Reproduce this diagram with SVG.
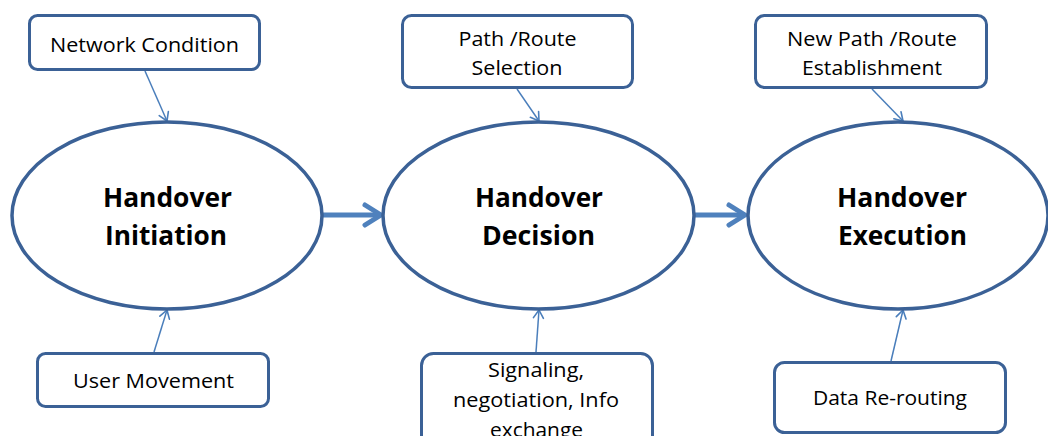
<svg xmlns="http://www.w3.org/2000/svg" width="1048" height="436" viewBox="0 0 1048 436">
  <style>
    .stage { fill: #ffffff; stroke: #3b6196; stroke-width: 3.5; }
    .box { fill: #ffffff; stroke: #3b6196; stroke-width: 3; }
    .title { font-family: "Open Sans", "Liberation Sans", sans-serif; font-weight: bold; font-size: 26px; fill: #000000; text-anchor: middle; }
    .label { font-family: "Open Sans", "Liberation Sans", sans-serif; font-size: 20px; fill: #000000; text-anchor: middle; }
    .thin { stroke: #4a7ebb; stroke-width: 1.5; fill: none; }
    .thick { stroke: #4f81bd; stroke-width: 5; fill: none; }
  </style>
  <defs>
    <marker id="open-small" viewBox="0 0 10 12" refX="9" refY="6" markerWidth="10" markerHeight="12" markerUnits="userSpaceOnUse" orient="auto" overflow="visible">
      <path d="M1,1 L9,6 L1,11" fill="none" stroke="#4a7ebb" stroke-width="1.6" stroke-linecap="round" stroke-linejoin="round"/>
    </marker>
    <marker id="open-large" viewBox="0 0 20 24" refX="17" refY="12" markerWidth="20" markerHeight="24" markerUnits="userSpaceOnUse" orient="auto" overflow="visible">
      <path d="M1,2 L17,12 L1,22" fill="none" stroke="#4f81bd" stroke-width="5" stroke-linecap="round" stroke-linejoin="round"/>
    </marker>
  </defs>

  <rect width="1048" height="436" fill="#ffffff"/>

  <!-- connectors -->
  <g id="connectors">
    <line class="thick" x1="322" y1="215" x2="381" y2="215" marker-end="url(#open-large)"/>
    <line class="thick" x1="695" y1="215" x2="745" y2="215" marker-end="url(#open-large)"/>
    <line class="thin" x1="145" y1="71" x2="167" y2="121" marker-end="url(#open-small)"/>
    <line class="thin" x1="517" y1="89" x2="539" y2="121" marker-end="url(#open-small)"/>
    <line class="thin" x1="872" y1="89" x2="903" y2="121" marker-end="url(#open-small)"/>
    <line class="thin" x1="154" y1="352" x2="167" y2="310" marker-end="url(#open-small)"/>
    <line class="thin" x1="536" y1="352" x2="539" y2="310" marker-end="url(#open-small)"/>
    <line class="thin" x1="891" y1="361" x2="903" y2="310" marker-end="url(#open-small)"/>
  </g>

  <!-- main stages -->
  <g id="initiation">
    <ellipse class="stage" cx="167" cy="215.5" rx="155" ry="93.5"/>
    <text class="title" x="167.5" y="207" textLength="129" lengthAdjust="spacingAndGlyphs">Handover</text>
    <text class="title" x="166" y="245" textLength="122" lengthAdjust="spacingAndGlyphs">Initiation</text>
  </g>
  <g id="decision">
    <ellipse class="stage" cx="538.5" cy="215.5" rx="155.5" ry="93.5"/>
    <text class="title" x="539" y="207" textLength="128" lengthAdjust="spacingAndGlyphs">Handover</text>
    <text class="title" x="538.5" y="245" textLength="113" lengthAdjust="spacingAndGlyphs">Decision</text>
  </g>
  <g id="execution">
    <ellipse class="stage" cx="898" cy="215.5" rx="150" ry="93.5"/>
    <text class="title" x="902" y="207" textLength="130" lengthAdjust="spacingAndGlyphs">Handover</text>
    <text class="title" x="902.5" y="245" textLength="129" lengthAdjust="spacingAndGlyphs">Execution</text>
  </g>

  <!-- inputs above -->
  <g id="network-condition">
    <rect class="box" x="29.5" y="15.5" width="230" height="54" rx="8"/>
    <text class="label" x="144.5" y="52" textLength="189" lengthAdjust="spacingAndGlyphs">Network Condition</text>
  </g>
  <g id="route-selection">
    <rect class="box" x="402.5" y="15.5" width="230" height="72" rx="9"/>
    <text class="label" x="517.5" y="46" textLength="118" lengthAdjust="spacingAndGlyphs">Path /Route</text>
    <text class="label" x="517" y="75" textLength="91" lengthAdjust="spacingAndGlyphs">Selection</text>
  </g>
  <g id="route-establishment">
    <rect class="box" x="755.5" y="15.5" width="231" height="72" rx="9"/>
    <text class="label" x="872" y="46" textLength="170" lengthAdjust="spacingAndGlyphs">New Path /Route</text>
    <text class="label" x="872" y="75" textLength="140" lengthAdjust="spacingAndGlyphs">Establishment</text>
  </g>

  <!-- inputs below -->
  <g id="user-movement">
    <rect class="box" x="37.5" y="353.5" width="231" height="53" rx="8"/>
    <text class="label" x="153.5" y="388" textLength="161" lengthAdjust="spacingAndGlyphs">User Movement</text>
  </g>
  <g id="signaling">
    <rect class="box" x="421.5" y="353.5" width="231" height="100" rx="12"/>
    <text class="label" x="536" y="377" textLength="96" lengthAdjust="spacingAndGlyphs">Signaling,</text>
    <text class="label" x="536" y="407" textLength="166" lengthAdjust="spacingAndGlyphs">negotiation, Info</text>
    <text class="label" x="536.5" y="437" textLength="93" lengthAdjust="spacingAndGlyphs">exchange</text>
  </g>
  <g id="data-rerouting">
    <rect class="box" x="774.5" y="362.5" width="231" height="70" rx="10"/>
    <text class="label" x="890" y="405" textLength="154" lengthAdjust="spacingAndGlyphs">Data Re-routing</text>
  </g>
</svg>
